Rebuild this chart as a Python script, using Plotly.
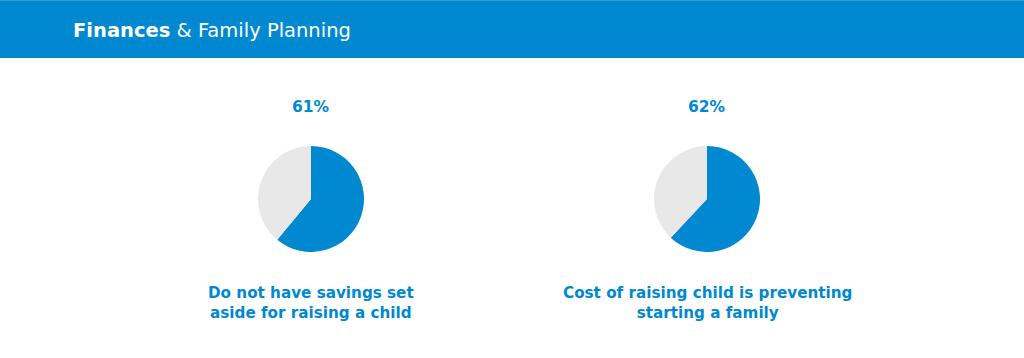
import plotly.graph_objects as go

# Data
titles = ["Do not have savings set<br>aside for raising a child",
          "Cost of raising child is preventing<br>starting a family"]
values = [61, 62]
pct_labels = ["61%", "62%"]
header_bold = "Finances"
header_rest = " & Family Planning"

W, H = 1024, 358
BLUE = "#0088d1"
GRAY = "#e8e8e8"

centers_x = [311, 707]
cy = 199
r = 53

fig = go.Figure()
for i, v in enumerate(values):
    cx = centers_x[i]
    fig.add_trace(go.Pie(
        values=[v, 100 - v],
        labels=["Yes", "No"],
        marker=dict(colors=[BLUE, GRAY], line=dict(width=0)),
        sort=False, direction="clockwise", rotation=0,
        textinfo="none", hoverinfo="label+percent", showlegend=False,
        domain=dict(x=[(cx - r) / W, (cx + r) / W],
                    y=[1 - (cy + r) / H, 1 - (cy - r) / H]),
    ))
    fig.add_annotation(x=cx / W, y=1 - 107 / H, xref="paper", yref="paper",
                       text="<b>" + pct_labels[i] + "</b>", showarrow=False,
                       font=dict(family="DejaVu Sans", size=15.5, color=BLUE),
                       xanchor="center", yanchor="middle")
    fig.add_annotation(x=cx / W, y=1 - 303 / H, xref="paper", yref="paper",
                       text="<b>" + titles[i] + "</b>", showarrow=False,
                       font=dict(family="DejaVu Sans", size=15.2, color=BLUE),
                       xanchor="center", yanchor="middle", align="center")

# Header band
fig.add_shape(type="rect", xref="paper", yref="paper", x0=0, x1=1,
              y0=1 - 58 / H, y1=1, fillcolor=BLUE, line=dict(width=0), layer="below")
fig.add_shape(type="rect", xref="paper", yref="paper", x0=0, x1=1,
              y0=1 - 1 / H, y1=1, fillcolor="#2f9bd8", line=dict(width=0), layer="below")
fig.add_annotation(x=71 / W, y=1 - 31 / H, xref="paper", yref="paper",
                   text="<b>" + header_bold + "</b>" + header_rest, showarrow=False,
                   font=dict(family="DejaVu Sans", size=19.5, color="white"),
                   xanchor="left", yanchor="middle")

fig.update_layout(width=W, height=H, margin=dict(l=0, r=0, t=0, b=0),
                  paper_bgcolor="white", plot_bgcolor="white")
fig.write_html("out.html", config={"displayModeBar": False},
               post_script="document.body.style.margin='0';")
